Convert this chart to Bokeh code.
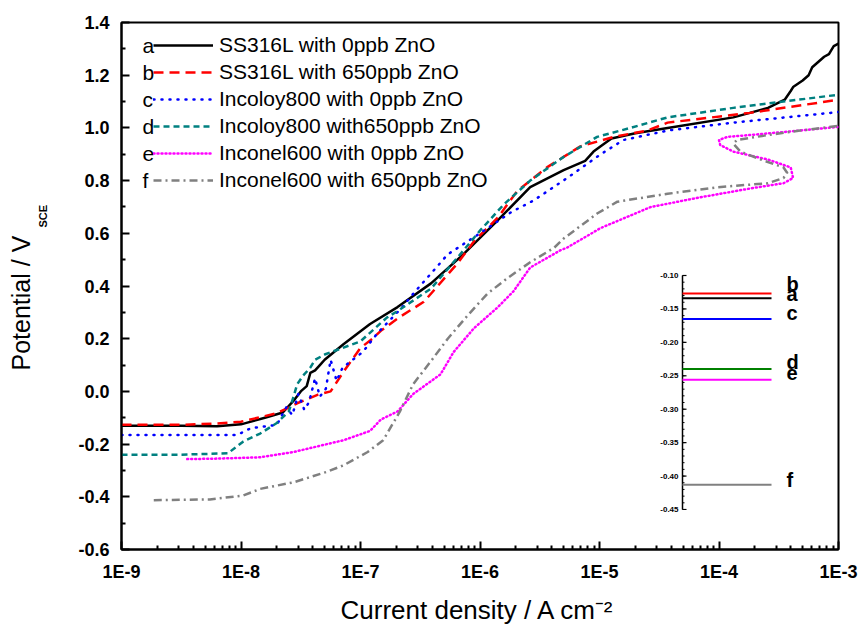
import numpy as np
from bokeh.plotting import figure
from bokeh.models import (Range1d, FixedTicker, CustomJSTickFormatter, Legend,
                          LegendItem, Label, Title, LinearScale)
from bokeh.core.properties import value
from bokeh.embed import file_html
from bokeh.resources import INLINE

# ---------------- data ----------------
x_tick_exps = [-9, -8, -7, -6, -5, -4, -3]
x_tick_labels = ["1E-9", "1E-8", "1E-7", "1E-6", "1E-5", "1E-4", "1E-3"]
y_ticks = [-0.6, -0.4, -0.2, 0.0, 0.2, 0.4, 0.6, 0.8, 1.0, 1.2, 1.4]
y_tick_labels = ["-0.6", "-0.4", "-0.2", "0.0", "0.2", "0.4", "0.6", "0.8", "1.0", "1.2", "1.4"]
x_title = "Current density / A cm\u207b\u00b2"
y_title = "Potential / V"
y_title_sub = "SCE"

series_letters = ["a", "b", "c", "d", "e", "f"]
series_names = ["SS316L with 0ppb ZnO", "SS316L with 650ppb ZnO",
                "Incoloy800 with 0ppb ZnO", "Incoloy800 with650ppb ZnO",
                "Inconel600 with 0ppb ZnO", "Inconel600 with 650ppb ZnO"]

# log10(current density / A cm-2) and potential / V_SCE
logi_a = [-9.0, -8.5, -8.2, -8.0, -7.8, -7.65, -7.55, -7.5, -7.45, -7.42, -7.38,
          -7.34, -7.3, -7.14, -6.92, -6.69, -6.41, -6.14, -5.85, -5.58, -5.30,
          -5.12, -5.05, -4.99, -4.9, -4.7, -4.43, -3.88, -3.59, -3.45, -3.40,
          -3.38, -3.3, -3.25, -3.22, -3.12, -3.08, -3.04, -3.0]
E_a = [-0.130, -0.130, -0.132, -0.125, -0.100, -0.080, -0.030, 0.000, 0.020, 0.070,
       0.080, 0.100, 0.120, 0.180, 0.256, 0.320, 0.410, 0.520, 0.650, 0.775, 0.840,
       0.875, 0.910, 0.930, 0.960, 0.980, 1.000, 1.040, 1.076, 1.107, 1.140,
       1.155, 1.180, 1.200, 1.230, 1.270, 1.280, 1.310, 1.320]

logi_b = [-9.0, -8.5, -8.2, -8.0, -7.7, -7.53, -7.36, -7.25, -7.14, -7.0, -6.9,
          -6.83, -6.68, -6.47, -6.19, -6.05, -5.85, -5.69, -5.44, -5.16, -4.88,
          -4.6, -4.43, -3.74, -3.0]
E_b = [-0.127, -0.127, -0.122, -0.115, -0.083, -0.045, -0.013, 0.000, 0.076, 0.165,
       0.200, 0.230, 0.280, 0.340, 0.485, 0.570, 0.660, 0.760, 0.850, 0.930, 0.966,
       0.990, 1.020, 1.057, 1.107]

logi_c = [-9.0, -8.5, -8.03, -7.92, -7.7, -7.62, -7.57, -7.52, -7.47, -7.43, -7.38,
          -7.34, -7.29, -7.25, -7.2, -7.15, -6.98, -6.86, -6.65, -6.56, -6.27, -6.0,
          -5.74, -5.55, -5.27, -4.99, -4.8, -4.43, -3.88, -3.0]
E_c = [-0.165, -0.165, -0.165, -0.140, -0.127, -0.060, -0.090, -0.010, -0.070,
       -0.040, 0.050, -0.020, 0.010, 0.120, 0.040, 0.090, 0.150, 0.220, 0.320,
       0.370, 0.520, 0.600, 0.680, 0.725, 0.810, 0.900, 0.954, 0.990, 1.020, 1.060]

logi_d = [-9.0, -8.5, -8.11, -7.98, -7.84, -7.7, -7.6, -7.56, -7.53, -7.48, -7.42,
          -7.38, -7.3, -7.0, -6.78, -6.69, -6.41, -6.14, -6.0, -5.8, -5.58, -5.3,
          -5.02, -4.74, -4.43, -3.88, -3.0]
E_d = [-0.240, -0.240, -0.235, -0.190, -0.160, -0.120, -0.076, -0.020, 0.027,
       0.060, 0.090, 0.120, 0.140, 0.190, 0.280, 0.305, 0.390, 0.534, 0.610, 0.710,
       0.800, 0.890, 0.966, 1.000, 1.040, 1.076, 1.126]

logi_e = [-8.45, -8.2, -7.84, -7.56, -7.28, -7.14, -6.92, -6.83, -6.69, -6.56,
          -6.33, -6.22, -6.05, -5.85, -5.72, -5.58, -5.33, -5.27, -4.99, -4.57,
          -4.15, -3.74, -3.46, -3.38, -3.40, -3.59, -3.88, -3.99, -4.0, -3.93,
          -3.74, -3.32, -3.0]
E_e = [-0.257, -0.255, -0.250, -0.230, -0.200, -0.185, -0.150, -0.107, -0.076,
       -0.010, 0.065, 0.150, 0.240, 0.320, 0.380, 0.470, 0.535, 0.546, 0.620,
       0.700, 0.737, 0.770, 0.790, 0.810, 0.850, 0.880, 0.910, 0.935, 0.954,
       0.966, 0.973, 0.990, 1.004]

logi_f = [-8.73, -8.26, -7.98, -7.84, -7.56, -7.28, -7.14, -6.94, -6.81, -6.67,
          -6.56, -6.41, -6.27, -6.10, -5.94, -5.77, -5.58, -5.38, -5.30, -5.02,
          -4.85, -4.43, -4.01, -3.59, -3.46, -3.43, -3.46, -3.65, -3.82, -3.88,
          -3.85, -3.59, -3.32, -3.0]
E_f = [-0.413, -0.410, -0.395, -0.370, -0.345, -0.305, -0.280, -0.230, -0.185,
       -0.076, 0.027, 0.115, 0.200, 0.290, 0.370, 0.430, 0.490, 0.545, 0.580,
       0.675, 0.720, 0.750, 0.775, 0.790, 0.810, 0.830, 0.850, 0.880, 0.910,
       0.940, 0.954, 0.973, 0.990, 1.008]

# inset: corrosion potentials (V_SCE)
ecorr_letters = ["b", "a", "c", "d", "e", "f"]
ecorr_values = [-0.127, -0.134, -0.165, -0.240, -0.256, -0.413]
inset_ticks = [-0.10, -0.15, -0.20, -0.25, -0.30, -0.35, -0.40, -0.45]
inset_tick_labels = ["-0.10", "-0.15", "-0.20", "-0.25", "-0.30", "-0.35", "-0.40", "-0.45"]

# ---------------- styles / layout ----------------
colors = ["#000000", "#FF0000", "#0000FF", "#008080", "#FF00FF", "#808080"]
dashes = ["solid", "10 6", "1 7", "6 4", "1 3", "8 4 2 4"]
caps = ["butt", "butt", "round", "butt", "round", "butt"]
inset_colors = ["#FF0000", "#000000", "#0000FF", "#008000", "#FF00FF", "#808080"]
inset_label_dy = [-10, -4, -6, -7, -7, -5]

W, H = 862, 627
BL, BR, BT, BB = 121, 24, 22, 78
FW, FH = W - BL - BR, H - BT - BB
FONT = "Liberation Sans"

p = figure(width=W, height=H, x_axis_type="log", output_backend="svg",
           toolbar_location=None, x_range=Range1d(1e-9, 1e-3),
           y_range=Range1d(-0.6, 1.4),
           min_border_left=BL, min_border_right=BR, min_border_top=BT,
           min_border_bottom=BB)
p.grid.visible = False
p.outline_line_color = "black"
p.outline_line_width = 2
p.background_fill_color = "white"
p.border_fill_color = "white"

x_minor = [k * 10.0 ** e for e in x_tick_exps[:-1] for k in range(2, 10)]
p.xaxis.ticker = FixedTicker(ticks=[10.0 ** e for e in x_tick_exps], minor_ticks=x_minor)
p.xaxis.formatter = CustomJSTickFormatter(
    args=dict(xexps=x_tick_exps, xlabels=x_tick_labels),
    code="const e = Math.round(Math.log10(tick)); const i = xexps.indexOf(e); return i >= 0 ? xlabels[i] : '';")
y_minor = [round(t + 0.1, 2) for t in y_ticks[:-1]]
p.yaxis.ticker = FixedTicker(ticks=y_ticks, minor_ticks=y_minor)
p.yaxis.formatter = CustomJSTickFormatter(
    args=dict(yvals=y_ticks, ylabels=y_tick_labels),
    code="let b = 0; for (let i = 0; i < yvals.length; i++) { if (Math.abs(yvals[i] - tick) < Math.abs(yvals[b] - tick)) b = i; } return ylabels[b];")

for ax in (p.xaxis[0], p.yaxis[0]):
    ax.axis_line_width = 2
    ax.major_tick_line_width = 2
    ax.minor_tick_line_width = 2
    ax.major_tick_in = 8
    ax.major_tick_out = 0
    ax.minor_tick_in = 4
    ax.minor_tick_out = 0
    ax.major_label_text_font = FONT
    ax.major_label_text_font_style = "bold"
    ax.major_label_text_font_size = "18px"
    ax.major_label_text_color = "black"
p.xaxis.major_label_standoff = 12
p.yaxis.major_label_standoff = 12

# ---------------- curves ----------------
all_logi = [logi_a, logi_b, logi_c, logi_d, logi_e, logi_f]
all_E = [E_a, E_b, E_c, E_d, E_e, E_f]
renderers = []
for li, ev, c, d, cap in zip(all_logi, all_E, colors, dashes, caps):
    r = p.line([10.0 ** v for v in li], ev, line_color=c, line_width=2.5,
               line_dash=d, line_cap=cap, line_join="round")
    renderers.append(r)

# ---------------- legend ----------------
LEG_TOP = 33          # px below canvas top
ITEM_H, SPACING = 24, 3
LEG_FONT = "21px"
n = len(renderers)
leg_h = n * ITEM_H + (n - 1) * SPACING
leg_bottom_from_frame_bottom = (BT + FH) - (LEG_TOP + leg_h)
legend = Legend(items=[LegendItem(label=nm, renderers=[r]) for nm, r in zip(series_names, renderers)],
                location=(32, leg_bottom_from_frame_bottom),
                glyph_width=60, glyph_height=ITEM_H, label_height=ITEM_H,
                spacing=SPACING, label_standoff=6, padding=0, margin=0,
                border_line_alpha=0, background_fill_alpha=0,
                label_text_font=FONT, label_text_font_size=LEG_FONT,
                label_text_color="black")
p.add_layout(legend)
for i, letter in enumerate(series_letters):
    cy = LEG_TOP + ITEM_H / 2 + i * (ITEM_H + SPACING)
    p.add_layout(Label(x=21, y=(BT + FH) - cy, x_units="screen", y_units="screen",
                       text=letter, text_font=FONT, text_font_size=LEG_FONT,
                       text_baseline="middle", text_align="left", text_color="black"))

# ---------------- x title: spacer + title in the bottom panel ----------------
p.add_layout(Title(text=" ", text_font_size="2px", standoff=4), "below")
p.add_layout(Title(text=x_title, align="left", offset=219, text_font=FONT,
                   text_font_size="26px", text_font_style="normal", standoff=0,
                   text_color="black"), "below")

# ---------------- y title: spacer + subscript + main text as side-panel titles ----------------
p.add_layout(Title(text=" ", text_font_size="10px", standoff=14), "left")
p.add_layout(Title(text=y_title_sub, align="left", offset=322, text_font=FONT,
                   text_font_size="11px", text_font_style="bold", standoff=0,
                   text_color="black"), "left")
p.add_layout(Title(text=y_title, align="left", offset=179, text_font=FONT,
                   text_font_size="25px", text_font_style="normal", standoff=0,
                   text_color="black"), "left")

# ---------------- inset (drawn in the main frame with its own ranges) ----------------
IN_TOP, IN_BOT = 275, 509          # canvas px of -0.10 and -0.45
imax, imin = inset_ticks[0], inset_ticks[-1]
sc = (imax - imin) / (IN_BOT - IN_TOP)
p.extra_y_ranges = {"inset": Range1d(imin - (BT + FH - IN_BOT) * sc, imax + (IN_TOP - BT) * sc)}
p.extra_y_scales = {"inset": LinearScale()}
p.extra_x_ranges = {"inset_x": Range1d(0, FW)}
p.extra_x_scales = {"inset_x": LinearScale()}
AX = 682 - BL
LINE_END = 771 - BL
LAB_X = 786 - BL

kw = dict(x_range_name="inset_x", y_range_name="inset")
p.segment(x0=[AX], y0=[imax], x1=[AX], y1=[imin], line_color="black", line_width=1.5, **kw)
p.segment(x0=[AX] * len(inset_ticks), y0=inset_ticks, x1=[AX + 4] * len(inset_ticks),
          y1=inset_ticks, line_color="black", line_width=1.2, **kw)
inset_minor = [round(imax - 0.01 * k, 2) for k in range(int(round((imax - imin) / 0.01)) + 1)]
p.segment(x0=[AX] * len(inset_minor), y0=inset_minor, x1=[AX + 2] * len(inset_minor),
          y1=inset_minor, line_color="black", line_width=1, **kw)
p.text(x=[AX - 4] * len(inset_ticks), y=inset_ticks, text=inset_tick_labels,
       text_font=value(FONT), text_font_size="8px", text_font_style="bold",
       text_align="right", text_baseline="middle", text_color="black", **kw)
p.segment(x0=[AX] * len(ecorr_values), y0=ecorr_values, x1=[LINE_END] * len(ecorr_values),
          y1=ecorr_values, line_color=inset_colors, line_width=2, **kw)
p.text(x=[LAB_X] * len(ecorr_values), y=ecorr_values, text=ecorr_letters,
       y_offset=inset_label_dy, text_font=value(FONT), text_font_size="20px",
       text_font_style="bold", text_align="left", text_baseline="middle",
       text_color="black", **kw)

open("out.html", "w").write(file_html(p, INLINE))
